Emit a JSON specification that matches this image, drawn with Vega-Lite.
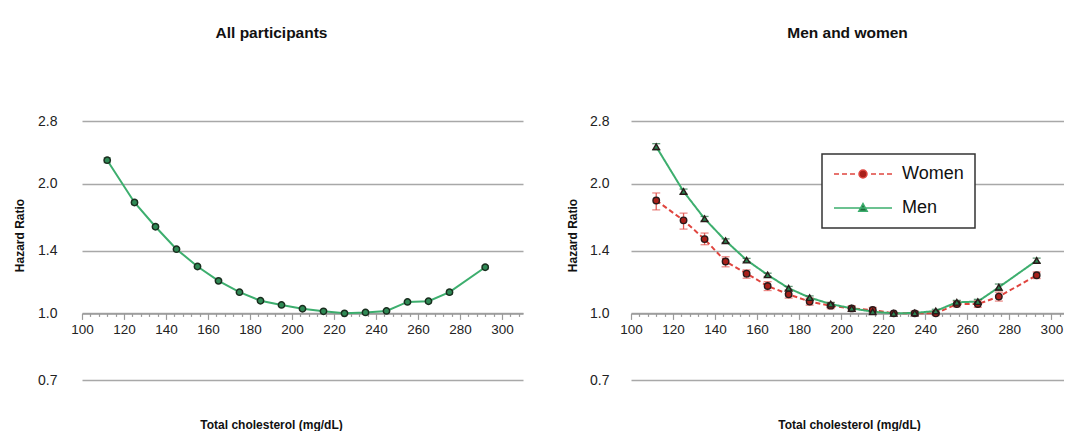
{
  "$schema": "https://vega.github.io/schema/vega-lite/v6.json",
  "background": "white",
  "padding": {"left": 13, "top": 25, "right": 0, "bottom": 0},
  "config": {
    "font": "Liberation Sans",
    "view": {"stroke": null},
    "axis": {"labelFont": "Liberation Sans", "titleFont": "Liberation Sans"},
    "legend": {"labelFont": "Liberation Sans"},
    "title": {"font": "Liberation Sans"}
  },
  "bounds": "flush",
  "spacing": 108,
  "datasets": {
    "all": [
      {"chol": 112, "hr": 2.27, "lo": 2.24, "hi": 2.30},
      {"chol": 125, "hr": 1.81, "lo": 1.79, "hi": 1.83},
      {"chol": 135, "hr": 1.59, "lo": 1.575, "hi": 1.605},
      {"chol": 145, "hr": 1.41, "lo": 1.40, "hi": 1.42},
      {"chol": 155, "hr": 1.285, "lo": 1.275, "hi": 1.295},
      {"chol": 165, "hr": 1.19, "lo": 1.182, "hi": 1.198},
      {"chol": 175, "hr": 1.12, "lo": 1.113, "hi": 1.127},
      {"chol": 185, "hr": 1.07, "lo": 1.063, "hi": 1.077},
      {"chol": 195, "hr": 1.046, "lo": 1.04, "hi": 1.052},
      {"chol": 205, "hr": 1.025, "lo": 1.019, "hi": 1.031},
      {"chol": 215, "hr": 1.011, "lo": 1.006, "hi": 1.016},
      {"chol": 225, "hr": 1.0, "lo": 1.0, "hi": 1.0},
      {"chol": 235, "hr": 1.005, "lo": 0.999, "hi": 1.011},
      {"chol": 245, "hr": 1.013, "lo": 1.006, "hi": 1.02},
      {"chol": 255, "hr": 1.063, "lo": 1.055, "hi": 1.071},
      {"chol": 265, "hr": 1.067, "lo": 1.058, "hi": 1.076},
      {"chol": 275, "hr": 1.12, "lo": 1.108, "hi": 1.132},
      {"chol": 292, "hr": 1.28, "lo": 1.268, "hi": 1.292}
    ],
    "sex": [
      {"sex": "Women", "chol": 112, "hr": 1.83, "lo": 1.74, "hi": 1.905},
      {"sex": "Women", "chol": 125, "hr": 1.645, "lo": 1.57, "hi": 1.71},
      {"sex": "Women", "chol": 135, "hr": 1.488, "lo": 1.444, "hi": 1.537},
      {"sex": "Women", "chol": 145, "hr": 1.32, "lo": 1.283, "hi": 1.354},
      {"sex": "Women", "chol": 155, "hr": 1.237, "lo": 1.207, "hi": 1.262},
      {"sex": "Women", "chol": 165, "hr": 1.158, "lo": 1.13, "hi": 1.185},
      {"sex": "Women", "chol": 175, "hr": 1.107, "lo": 1.085, "hi": 1.13},
      {"sex": "Women", "chol": 185, "hr": 1.065, "lo": 1.045, "hi": 1.085},
      {"sex": "Women", "chol": 195, "hr": 1.042, "lo": 1.025, "hi": 1.06},
      {"sex": "Women", "chol": 205, "hr": 1.027, "lo": 1.012, "hi": 1.042},
      {"sex": "Women", "chol": 215, "hr": 1.018, "lo": 1.005, "hi": 1.032},
      {"sex": "Women", "chol": 225, "hr": 1.0, "lo": 1.0, "hi": 1.0},
      {"sex": "Women", "chol": 235, "hr": 1.0, "lo": 0.988, "hi": 1.012},
      {"sex": "Women", "chol": 245, "hr": 1.0, "lo": 0.988, "hi": 1.013},
      {"sex": "Women", "chol": 255, "hr": 1.051, "lo": 1.035, "hi": 1.067},
      {"sex": "Women", "chol": 265, "hr": 1.051, "lo": 1.033, "hi": 1.07},
      {"sex": "Women", "chol": 275, "hr": 1.094, "lo": 1.068, "hi": 1.12},
      {"sex": "Women", "chol": 293, "hr": 1.226, "lo": 1.205, "hi": 1.248},
      {"sex": "Men", "chol": 112, "hr": 2.44, "lo": 2.40, "hi": 2.48},
      {"sex": "Men", "chol": 125, "hr": 1.92, "lo": 1.895, "hi": 1.945},
      {"sex": "Men", "chol": 135, "hr": 1.66, "lo": 1.64, "hi": 1.68},
      {"sex": "Men", "chol": 145, "hr": 1.475, "lo": 1.46, "hi": 1.49},
      {"sex": "Men", "chol": 155, "hr": 1.33, "lo": 1.318, "hi": 1.342},
      {"sex": "Men", "chol": 165, "hr": 1.229, "lo": 1.218, "hi": 1.24},
      {"sex": "Men", "chol": 175, "hr": 1.144, "lo": 1.133, "hi": 1.155},
      {"sex": "Men", "chol": 185, "hr": 1.088, "lo": 1.078, "hi": 1.098},
      {"sex": "Men", "chol": 195, "hr": 1.051, "lo": 1.042, "hi": 1.06},
      {"sex": "Men", "chol": 205, "hr": 1.027, "lo": 1.019, "hi": 1.035},
      {"sex": "Men", "chol": 215, "hr": 1.009, "lo": 1.002, "hi": 1.016},
      {"sex": "Men", "chol": 225, "hr": 1.0, "lo": 1.0, "hi": 1.0},
      {"sex": "Men", "chol": 235, "hr": 1.002, "lo": 0.994, "hi": 1.01},
      {"sex": "Men", "chol": 245, "hr": 1.013, "lo": 1.004, "hi": 1.022},
      {"sex": "Men", "chol": 255, "hr": 1.061, "lo": 1.05, "hi": 1.072},
      {"sex": "Men", "chol": 265, "hr": 1.065, "lo": 1.052, "hi": 1.078},
      {"sex": "Men", "chol": 275, "hr": 1.15, "lo": 1.13, "hi": 1.17},
      {"sex": "Men", "chol": 293, "hr": 1.327, "lo": 1.31, "hi": 1.344}
    ]
  },
  "hconcat": [
    {
      "width": 441,
      "height": 259,
      "title": {"text": "All participants", "fontSize": 15.5, "fontWeight": "bold", "color": "#111", "offset": 73, "dx": -31, "anchor": "middle"},
      "data": {"name": "all"},
      "layer": [
        {
          "mark": {"type": "line", "color": "#3dae6e", "strokeWidth": 2},
          "encoding": {
            "x": {
              "field": "chol", "type": "quantitative",
              "scale": {"domain": [100, 310], "nice": false, "zero": false},
              "axis": {
                "values": [100,104,108,112,116,120,124,128,132,136,140,144,148,152,156,160,164,168,172,176,180,184,188,192,196,200,204,208,212,216,220,224,228,232,236,240,244,248,252,256,260,264,268,272,276,280,284,288,292,296,300,304,308],
                "tickCount": 200,
                "labelExpr": "datum.value % 20 === 0 ? datum.label : ''",
                "format": "d",
                "offset": -66.6,
                "grid": false,
                "domainColor": "#9a9a9a", "domainWidth": 1.5,
                "tickColor": "#9a9a9a", "tickWidth": 1.2,
                "tickSize": {"condition": {"test": "datum.value % 20 === 0", "value": 6}, "value": 3},
                "labelFontSize": 13.5, "labelColor": "#222", "labelPadding": 3, "labelOverlap": false, "labelFlush": false,
                "title": "Total cholesterol (mg/dL)", "titleFontSize": 12, "titleFontWeight": "bold", "titleColor": "#111",
                "titlePadding": 84, "titleX": 189
              }
            },
            "y": {
              "field": "hr", "type": "quantitative",
              "scale": {"type": "log", "domain": [0.7, 2.8], "nice": false},
              "axis": {
                "values": [0.7, 1.0, 1.4, 2.0, 2.8], "format": ".1f",
                "grid": true, "gridColor": "#a8a8a8", "gridWidth": 1.5,
                "domain": false, "ticks": false,
                "labelPadding": 25, "labelFontSize": 14, "labelColor": "#222",
                "title": "Hazard Ratio", "titleFontSize": 12, "titleFontWeight": "bold", "titleColor": "#111",
                "titleX": -62.7, "titleY": 114, "titleBaseline": "middle", "titleAngle": -90
              }
            }
          }
        },
        {
          "mark": {"type": "errorbar", "ticks": {"size": 7}, "color": "#1f5e36", "thickness": 1.2},
          "encoding": {
            "x": {"field": "chol", "type": "quantitative"},
            "y": {"field": "lo", "type": "quantitative", "title": "Hazard Ratio", "scale": {"type": "log", "domain": [0.7, 2.8], "nice": false}},
            "y2": {"field": "hi"}
          }
        },
        {
          "mark": {"type": "point", "filled": true, "shape": "circle", "size": 40, "fill": "#2f8a55", "stroke": "#1a2e1f", "strokeWidth": 1.5, "opacity": 1},
          "encoding": {
            "x": {"field": "chol", "type": "quantitative"},
            "y": {"field": "hr", "type": "quantitative", "title": "Hazard Ratio"}
          }
        }
      ]
    },
    {
      "width": 433,
      "height": 259,
      "title": {"text": "Men and women", "fontSize": 15.5, "fontWeight": "bold", "color": "#111", "offset": 73, "anchor": "middle"},
      "data": {"name": "sex"},
      "layer": [
        {
          "mark": {"type": "line", "strokeWidth": 2},
          "encoding": {
            "x": {
              "field": "chol", "type": "quantitative",
              "scale": {"domain": [100, 306], "nice": false, "zero": false},
              "axis": {
                "values": [100,104,108,112,116,120,124,128,132,136,140,144,148,152,156,160,164,168,172,176,180,184,188,192,196,200,204,208,212,216,220,224,228,232,236,240,244,248,252,256,260,264,268,272,276,280,284,288,292,296,300,304],
                "tickCount": 200,
                "labelExpr": "datum.value % 20 === 0 ? datum.label : ''",
                "format": "d",
                "offset": -66.6,
                "grid": false,
                "domainColor": "#9a9a9a", "domainWidth": 1.5,
                "tickColor": "#9a9a9a", "tickWidth": 1.2,
                "tickSize": {"condition": {"test": "datum.value % 20 === 0", "value": 6}, "value": 3},
                "labelFontSize": 13.5, "labelColor": "#222", "labelPadding": 3, "labelOverlap": false, "labelFlush": false,
                "title": "Total cholesterol (mg/dL)", "titleFontSize": 12, "titleFontWeight": "bold", "titleColor": "#111",
                "titlePadding": 84, "titleX": 218
              }
            },
            "y": {
              "field": "hr", "type": "quantitative",
              "scale": {"type": "log", "domain": [0.7, 2.8], "nice": false},
              "axis": {
                "values": [0.7, 1.0, 1.4, 2.0, 2.8], "format": ".1f",
                "grid": true, "gridColor": "#a8a8a8", "gridWidth": 1.5,
                "domain": false, "ticks": false,
                "labelPadding": 22, "labelFontSize": 14, "labelColor": "#222",
                "title": "Hazard Ratio", "titleFontSize": 12, "titleFontWeight": "bold", "titleColor": "#111",
                "titleX": -59, "titleY": 114, "titleBaseline": "middle", "titleAngle": -90
              }
            },
            "stroke": {
              "field": "sex", "type": "nominal",
              "scale": {"domain": ["Women", "Men"], "range": ["#e0453f", "#3dae6e"]},
              "legend": {
                "title": null, "orient": "none", "legendX": 740, "legendY": 33, "direction": "vertical",
                "symbolSize": 256, "symbolStrokeWidth": 1.5,
                "labelFontSize": 18, "labelColor": "#111", "labelOffset": 51,
                "padding": 11, "rowPadding": 16,
                "strokeColor": "#333", "fillColor": "white",
                "encode": {
                  "legend": {
                    "update": {"strokeWidth": {"value": 1.5}}
                  },
                  "symbols": {
                    "update": {
                      "shape": [
                        {"test": "datum.value === 'Women'", "value": "M-1,0H-0.375M0,0H0.625M1,0H1.625M3.625,0H4.25M4.625,0H5.25M5.625,0H6.25M3.125,0A0.5,0.5,0,1,1,2.125,0A0.5,0.5,0,1,1,3.125,0Z"},
                        {"value": "M-1,0H6.25M2.625,-0.55L3.15,0.4L2.1,0.4Z"}
                      ],
                      "fill": [
                        {"test": "datum.value === 'Women'", "value": "#a8201a"},
                        {"value": "#1e6b3a"}
                      ],
                      "fillOpacity": {"value": 1}
                    }
                  }
                }
              }
            },
            "strokeDash": {
              "field": "sex", "type": "nominal",
              "scale": {"domain": ["Men", "Women"], "range": [[1, 0], [5, 3]]},
              "legend": null
            }
          }
        },
        {
          "mark": {"type": "errorbar", "ticks": {"size": 8}, "thickness": 1.3},
          "encoding": {
            "x": {"field": "chol", "type": "quantitative"},
            "y": {"field": "lo", "type": "quantitative", "title": "Hazard Ratio", "scale": {"type": "log", "domain": [0.7, 2.8], "nice": false}},
            "y2": {"field": "hi"},
            "color": {
              "field": "sex", "type": "nominal",
              "scale": {"domain": ["Men", "Women"], "range": ["#1f6e3e", "#e25a55"]},
              "legend": null
            }
          }
        },
        {
          "mark": {"type": "point", "filled": true, "size": 42, "stroke": "#2a1a1a", "strokeWidth": 1.4, "opacity": 1},
          "encoding": {
            "x": {"field": "chol", "type": "quantitative"},
            "y": {"field": "hr", "type": "quantitative", "title": "Hazard Ratio"},
            "shape": {
              "field": "sex", "type": "nominal",
              "scale": {"domain": ["Men", "Women"], "range": ["triangle-up", "circle"]},
              "legend": null
            },
            "fill": {
              "field": "sex", "type": "nominal",
              "scale": {"domain": ["Men", "Women"], "range": ["#2a8450", "#a8201a"]},
              "legend": null
            }
          }
        }
      ]
    }
  ]
}
